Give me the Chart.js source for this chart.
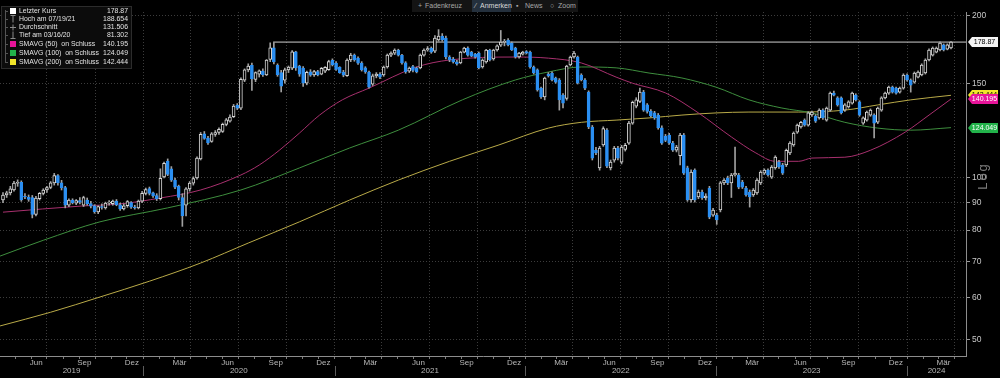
<!DOCTYPE html>
<html>
<head>
<meta charset="utf-8">
<script src="https://cdn.jsdelivr.net/npm/chart.js@4.4.1/dist/chart.umd.min.js"></script>
<style>
  html, body { margin: 0; padding: 0; background: #000; }
  #wrap { position: relative; width: 1000px; height: 378px; overflow: hidden; }
  #c { position: absolute; left: 0; top: 0; }
  #tb { position: absolute; left: 412px; top: 0; width: 166px; height: 12px; background: #141414;
        font: 7px "Liberation Sans", Arial, sans-serif; color: #a8a8a8; line-height: 12px; }
  #tb span { position: absolute; top: 0; white-space: nowrap; }
  #tb .on { background: #24303d; height: 12px; }
</style>
</head>
<body>
<div id="wrap">
  <canvas id="c" width="1000" height="378"></canvas>
  <div id="tb">
    <span style="left:6px">+</span><span style="left:13px">Fadenkreuz</span>
    <span class="on" style="left:60px;width:39px"></span>
    <span style="left:63px;color:#ccc">⁄</span><span style="left:68px;color:#d8d8d8">Anmerken</span>
    <span style="left:104px">▪</span><span style="left:113px">News</span>
    <span style="left:138px">○</span><span style="left:146px">Zoom</span>
  </div>
</div>
<script>
// weekly candles, first week = 2019-04-08
const open = [
  91.0, 93.0, 93.8, 95.0, 97.8, 98.2, 92.5, 92.2, 92.0, 85.6,
  91.5, 93.6, 95.0, 96.0, 97.9, 101.0, 98.0, 96.0, 89.0, 91.0,
  89.8, 90.8, 89.0, 91.0, 89.6, 88.8, 86.5, 88.5, 88.0, 89.8,
  89.6, 90.6, 89.2, 87.6, 88.8, 90.0, 88.3, 88.0, 90.6, 93.6,
  95.6, 93.8, 92.8, 91.5, 100.5, 107.5, 104.0, 99.1, 96.5, 92.0,
  89.0, 95.4, 97.8, 100.0, 108.5, 120.8, 118.6, 117.0, 120.5, 121.5,
  122.0, 125.8, 127.5, 130.0, 136.5, 134.8, 152.0, 158.8, 162.0, 152.5,
  156.0, 158.0, 155.5, 166.0, 174.5, 162.0, 157.0, 152.0, 158.8, 160.0,
  171.5, 161.2, 160.0, 150.0, 157.5, 155.5, 157.6, 156.0, 158.0, 159.0,
  165.5, 163.5, 160.5, 157.4, 155.0, 165.7, 169.2, 167.0, 163.5, 160.2,
  157.4, 149.4, 154.8, 156.0, 155.4, 160.8, 169.2, 170.6, 172.9, 169.0,
  163.6, 158.0, 161.0, 160.0, 160.2, 169.2, 172.9, 174.4, 172.0, 180.5,
  183.6, 182.0, 167.8, 166.4, 164.3, 163.6, 171.4, 174.4, 171.4, 169.9,
  170.6, 160.8, 164.3, 172.9, 166.4, 172.9, 176.5, 178.8, 180.5, 178.2,
  174.4, 167.8, 169.9, 171.8, 171.4, 160.8, 158.8, 146.9, 141.4, 156.0,
  156.7, 153.4, 152.1, 142.6, 140.5, 162.2, 167.8, 167.8, 155.4, 152.1,
  144.4, 124.4, 112.6, 104.4, 115.2, 122.7, 104.4, 107.9, 113.7, 107.0,
  113.0, 116.1, 126.5, 136.0, 138.8, 144.4, 136.7, 133.0, 132.1, 130.9,
  124.0, 119.7, 120.2, 116.1, 112.6, 110.0, 120.2, 104.4, 91.0, 103.4,
  92.2, 94.2, 91.8, 95.8, 85.3, 85.3, 87.2, 97.9, 100.0, 97.9,
  101.3, 101.3, 98.3, 95.8, 94.2, 93.0, 93.8, 97.9, 102.1, 103.4,
  100.4, 104.4, 107.0, 105.7, 105.7, 111.3, 115.2, 121.7, 124.4, 128.1,
  125.4, 131.0, 130.4, 129.3, 133.7, 128.1, 133.7, 143.8, 140.9, 140.9,
  133.7, 135.5, 137.8, 142.6, 138.5, 126.5, 128.1, 130.9, 130.9, 127.0,
  133.7, 140.9, 143.8, 147.5, 146.9, 144.4, 146.9, 155.4, 152.1, 150.7,
  154.0, 155.4, 156.7, 165.7, 169.2, 171.4, 172.9, 176.7, 173.6, 174.4
];
const high = [
  94.0, 94.5, 96.5, 98.6, 99.2, 98.8, 93.5, 93.0, 92.8, 92.5,
  94.0, 95.5, 96.5, 98.5, 102.0, 101.5, 99.0, 96.5, 91.5, 91.5,
  91.2, 92.0, 92.5, 91.8, 90.5, 89.2, 88.8, 89.5, 90.2, 90.8,
  91.0, 91.2, 89.8, 89.5, 90.8, 90.4, 89.0, 91.0, 94.5, 95.8,
  96.2, 94.2, 93.5, 104.0, 107.0, 108.5, 105.0, 100.0, 97.0, 93.5,
  96.0, 98.5, 100.5, 109.5, 121.5, 122.0, 119.5, 121.5, 122.5, 124.0,
  126.5, 129.0, 131.0, 137.0, 137.5, 153.5, 159.5, 163.0, 163.5, 157.5,
  158.8, 159.5, 166.0, 178.3, 178.5, 163.0, 158.5, 160.0, 161.5, 172.5,
  172.0, 162.0, 161.0, 158.0, 159.0, 158.5, 158.5, 160.5, 161.0, 165.5,
  166.5, 164.5, 161.0, 158.5, 166.5, 170.5, 170.0, 168.0, 164.5, 161.0,
  158.0, 156.0, 157.0, 157.0, 161.5, 170.0, 171.5, 173.8, 173.5, 169.8,
  164.5, 160.8, 162.0, 160.8, 170.0, 173.8, 175.5, 175.2, 184.0, 188.654,
  185.5, 183.5, 168.8, 167.5, 165.5, 172.0, 175.0, 175.2, 172.0, 170.5,
  171.5, 166.5, 173.5, 173.5, 173.5, 176.8, 188.0, 181.0, 181.5, 179.0,
  175.0, 171.2, 172.0, 172.5, 172.2, 161.5, 159.5, 147.5, 154.0, 157.0,
  157.5, 154.0, 153.0, 143.5, 162.0, 168.5, 172.0, 168.5, 156.2, 153.0,
  145.2, 125.2, 114.0, 114.5, 124.5, 123.5, 108.0, 114.5, 114.5, 115.0,
  116.0, 127.5, 139.0, 141.0, 146.9, 145.5, 137.5, 134.0, 133.0, 131.8,
  125.0, 120.5, 121.0, 117.0, 115.0, 121.0, 121.0, 105.2, 103.5, 104.0,
  95.0, 95.0, 93.5, 96.5, 87.8, 86.0, 98.5, 99.8, 100.8, 102.0,
  114.2, 102.0, 99.0, 96.5, 95.0, 95.6, 99.8, 103.2, 104.0, 104.0,
  105.5, 110.0, 107.8, 106.5, 113.2, 116.8, 121.8, 126.0, 127.5, 128.8,
  132.8, 133.2, 131.2, 134.5, 134.5, 135.5, 144.5, 145.0, 141.6, 141.5,
  137.5, 139.2, 144.5, 143.4, 139.2, 129.9, 133.2, 134.4, 131.6, 135.5,
  141.6, 144.5, 148.2, 148.2, 147.6, 147.6, 156.2, 156.2, 152.8, 157.4,
  158.2, 163.0, 166.5, 173.8, 175.2, 175.2, 179.0, 177.5, 177.5, 179.5
];
const low = [
  90.0, 92.0, 93.0, 94.5, 96.5, 90.5, 91.5, 90.5, 84.3, 85.0,
  91.0, 93.0, 94.0, 95.5, 97.0, 97.0, 95.0, 88.0, 88.5, 89.5,
  89.2, 89.5, 88.5, 89.0, 88.0, 86.0, 85.8, 87.5, 87.5, 89.0,
  89.0, 88.8, 87.0, 87.2, 88.2, 87.8, 87.5, 87.6, 90.0, 93.0,
  93.0, 92.0, 90.8, 91.0, 100.0, 101.0, 98.5, 95.5, 91.0, 81.302,
  85.0, 94.5, 97.0, 99.5, 108.0, 118.0, 115.5, 116.5, 119.5, 120.5,
  121.5, 125.0, 127.0, 129.5, 134.0, 134.0, 151.0, 157.5, 145.5, 151.0,
  154.0, 154.5, 155.0, 164.5, 163.0, 154.5, 144.5, 150.0, 157.0, 159.0,
  158.5, 154.5, 148.0, 149.0, 154.5, 154.5, 154.8, 155.5, 157.0, 158.5,
  161.5, 158.5, 156.5, 154.2, 154.5, 164.5, 164.8, 162.5, 158.0, 156.5,
  146.9, 148.5, 153.5, 153.0, 154.5, 160.0, 168.0, 169.5, 168.5, 162.8,
  156.5, 157.0, 157.5, 156.8, 159.5, 168.5, 172.0, 170.5, 171.0, 179.5,
  179.5, 166.5, 164.5, 163.5, 162.0, 163.0, 170.8, 168.5, 168.0, 167.0,
  159.5, 160.0, 163.5, 165.0, 165.5, 172.0, 175.5, 176.0, 176.0, 172.5,
  167.0, 167.0, 169.2, 170.0, 160.0, 156.0, 145.0, 140.5, 139.7, 154.0,
  151.5, 150.0, 133.7, 135.0, 139.5, 161.5, 167.0, 149.5, 151.5, 146.0,
  123.5, 108.0, 110.5, 103.4, 114.5, 104.5, 103.5, 107.0, 108.0, 106.2,
  112.2, 115.5, 125.8, 135.0, 138.0, 133.0, 132.0, 129.8, 128.5, 123.2,
  115.5, 116.8, 115.5, 112.0, 111.8, 105.7, 101.5, 90.5, 90.2, 90.2,
  91.5, 91.2, 91.0, 84.0, 84.8, 82.0, 86.5, 97.2, 97.2, 92.0,
  100.8, 95.5, 95.6, 92.5, 88.3, 92.4, 93.2, 97.2, 101.5, 100.8,
  99.8, 103.8, 104.2, 101.5, 105.0, 110.5, 114.5, 121.0, 123.8, 124.8,
  124.8, 130.2, 126.8, 128.6, 128.5, 127.5, 133.0, 142.0, 136.0, 131.5,
  133.0, 134.8, 137.2, 139.0, 130.2, 125.8, 127.5, 130.2, 118.7, 126.2,
  133.0, 140.2, 143.0, 143.8, 143.2, 143.8, 146.2, 151.4, 144.4, 150.0,
  153.4, 154.8, 156.0, 165.0, 168.5, 170.8, 172.2, 172.2, 173.0, 173.8
];
const close = [
  93.0, 93.8, 95.5, 97.8, 98.2, 91.0, 92.2, 91.2, 85.6, 91.8,
  93.6, 95.0, 96.0, 97.9, 101.0, 98.0, 95.8, 89.0, 91.0, 90.0,
  90.8, 90.2, 92.0, 89.6, 88.6, 86.6, 88.5, 88.2, 89.8, 90.2,
  90.6, 89.2, 87.6, 88.8, 90.4, 88.3, 88.0, 90.6, 93.6, 95.2,
  93.6, 92.6, 91.5, 99.9, 106.5, 101.5, 99.1, 96.2, 92.0, 85.0,
  95.5, 97.8, 99.8, 108.9, 120.5, 118.5, 116.2, 120.8, 121.5, 123.2,
  125.8, 128.2, 129.8, 136.0, 134.8, 152.5, 158.8, 161.5, 152.8, 157.0,
  158.2, 155.6, 165.6, 174.5, 164.3, 155.6, 148.2, 158.8, 160.8, 171.5,
  160.2, 156.0, 150.1, 157.2, 155.2, 157.6, 155.5, 159.8, 160.5, 164.5,
  162.2, 159.2, 157.0, 155.2, 165.7, 169.2, 165.7, 163.5, 158.8, 157.4,
  147.5, 154.8, 156.0, 154.0, 160.8, 169.2, 170.6, 172.9, 169.2, 163.6,
  157.4, 160.0, 158.5, 157.5, 169.2, 172.9, 174.0, 171.4, 182.0, 183.6,
  180.5, 167.8, 165.7, 164.3, 163.0, 171.4, 174.4, 169.2, 168.5, 167.8,
  160.2, 165.7, 172.9, 165.7, 172.9, 176.0, 178.8, 179.5, 176.7, 172.9,
  167.8, 170.6, 171.4, 170.6, 160.8, 156.7, 145.8, 141.4, 153.4, 154.8,
  152.1, 150.7, 139.7, 137.8, 161.5, 167.8, 170.6, 150.1, 152.1, 146.9,
  124.4, 108.9, 111.3, 113.7, 123.6, 105.2, 107.0, 113.7, 108.9, 114.2,
  115.0, 126.5, 138.3, 139.7, 144.4, 133.7, 133.0, 130.4, 129.3, 124.0,
  116.1, 117.5, 116.1, 112.6, 114.2, 120.2, 102.1, 91.0, 102.6, 91.0,
  94.2, 91.8, 92.6, 84.6, 87.2, 83.6, 97.9, 99.1, 97.9, 101.3,
  102.1, 96.2, 96.2, 93.0, 92.2, 95.0, 99.1, 102.6, 103.4, 101.3,
  104.8, 109.4, 104.8, 102.1, 112.6, 116.1, 121.2, 125.4, 126.9, 125.4,
  132.1, 132.6, 127.5, 133.7, 129.3, 134.9, 143.8, 142.6, 136.7, 132.1,
  136.7, 138.5, 143.8, 139.7, 130.9, 129.3, 132.6, 133.7, 126.5, 134.9,
  140.9, 143.8, 147.5, 144.4, 143.8, 146.9, 155.4, 152.1, 148.8, 156.7,
  157.4, 162.2, 165.7, 172.9, 174.4, 174.4, 178.2, 172.9, 176.7, 178.87
];

// moving averages (x = week index)
const sma50Weeks = [0, 21.5, 32, 43, 54, 65, 70, 75.5, 81, 86.5, 92.7, 100, 113, 122, 140, 149, 158, 167.5, 172, 181, 190, 199, 205.7, 211, 217.4, 221, 230, 237, 246.5, 253, 259];
const sma50 = [86.4, 88.7, 89.5, 91.8, 95.0, 101.3, 105.7, 112.6, 121.2, 130.9, 139.7, 146.9, 160.8, 165.7, 167.8, 167.0, 163.6, 154.0, 150.0, 143.9, 132.1, 119.2, 111.3, 107.4, 107.4, 108.9, 109.3, 112.6, 121.7, 130.9, 140.195];
const sma100Weeks = [-0.8, 11, 26.5, 45, 65, 81, 94.7, 108, 125.5, 140, 149, 158, 167.5, 176.5, 185.5, 194.8, 203.8, 212.8, 221, 230, 239, 248, 259];
const sma100 = [71.6, 76.6, 82.9, 88.0, 95.0, 104.4, 113.7, 122.7, 139.7, 152.1, 157.4, 160.8, 160.2, 156.7, 153.4, 147.5, 139.7, 134.9, 132.1, 126.9, 123.8, 122.7, 124.049];
const sma200Weeks = [-0.8, 13, 26.5, 40, 54, 67, 81, 94.7, 108, 122, 135.5, 149, 158, 167.5, 176.5, 185.5, 194.8, 203.8, 217.4, 230, 239, 248, 259];
const sma200 = [53.1, 56.3, 60.1, 64.3, 69.5, 75.7, 82.9, 91.0, 99.1, 107.4, 115.2, 123.8, 126.9, 128.1, 129.3, 130.9, 132.1, 132.6, 132.6, 133.7, 136.7, 139.7, 142.444];

const yTicks = [50, 60, 70, 80, 90, 100, 150, 200];
const monthNames = { 2: 'Mär', 5: 'Jun', 8: 'Sep', 11: 'Dez' };
const years = [2019, 2020, 2021, 2022, 2023, 2024];
const avgValue = 131.506;
const lastLineStart = 73.8;

const FONT = '"Liberation Sans", Arial, sans-serif';
const BLUE = '#2b8ff2';
const GRID = '#3c3c3c';
const X_MIN = -0.82, X_MAX = 263.1;
const Y_MIN = 46.69, Y_MAX = 203.45;

const START = Date.UTC(2019, 3, 8);
const weekOf = (y, m, d) => (Date.UTC(y, m, d) - START) / (7 * 86400000);

const monthTicks = [];
years.forEach(y => {
  for (let m = 0; m < 12; m++) {
    const v = weekOf(y, m, 1);
    if (v >= X_MIN && v <= X_MAX) monthTicks.push({ value: v, label: monthNames[m] || '', quarter: m % 3 === 0 });
  }
});
const yearTicks = years.map(y => {
  const a = Math.max(weekOf(y, 0, 1), X_MIN), b = Math.min(weekOf(y + 1, 0, 1), X_MAX);
  return { value: (a + b) / 2, label: String(y) };
});

const weeks = close.map((_, i) => i);
const isUp = i => i === undefined || close[i] >= open[i];
const last = close[close.length - 1];

const lineSet = (label, xs, ys, color) => ({
  type: 'line', label, xAxisID: 'x', yAxisID: 'y',
  data: xs.map((x, k) => ({ x, y: ys[k] })),
  borderColor: color, borderWidth: 1, pointRadius: 0,
  cubicInterpolationMode: 'monotone', order: 3
});

const legendRows = [
  { icon: 'box', color: '#ffffff', text: 'Letzter Kurs', value: last.toFixed(2) },
  { icon: 'hi', text: 'Hoch am 07/19/21', value: Math.max(...high).toFixed(3) },
  { icon: 'avg', text: 'Durchschnitt', value: avgValue.toFixed(3) },
  { icon: 'lo', text: 'Tief am 03/16/20', value: Math.min(...low).toFixed(3) },
  { icon: 'box', color: '#e8149a', text: 'SMAVG (50)  on Schluss', value: sma50[sma50.length - 1].toFixed(3) },
  { icon: 'box', color: '#22b24a', text: 'SMAVG (100)  on Schluss', value: sma100[sma100.length - 1].toFixed(3) },
  { icon: 'box', color: '#f2e52a', text: 'SMAVG (200)  on Schluss', value: sma200[sma200.length - 1].toFixed(3) }
];

const decor = {
  id: 'decor',
  afterDraw(chart) {
    const ctx = chart.ctx, xs = chart.scales.x, ys = chart.scales.y, area = chart.chartArea;
    ctx.save();

    // year separators under the month row
    ctx.strokeStyle = '#5c5c5c';
    ctx.lineWidth = 1;
    years.forEach(y => {
      const v = weekOf(y, 0, 1);
      if (v <= X_MIN || v >= X_MAX) return;
      const px = Math.round(xs.getPixelForValue(v)) + 0.5;
      ctx.beginPath(); ctx.moveTo(px, 366); ctx.lineTo(px, 376); ctx.stroke();
    });

    // Log label
    ctx.save();
    ctx.translate(983, 176);
    ctx.rotate(-Math.PI / 2);
    ctx.fillStyle = '#7e7e7e';
    ctx.font = '13px ' + FONT;
    ctx.letterSpacing = '2px';
    ctx.textAlign = 'center'; ctx.textBaseline = 'middle';
    ctx.fillText('Log', 0, 0);
    ctx.restore();

    // price tags on the right
    const tag = (v, bg, fg) => {
      const y = Math.round(ys.getPixelForValue(v));
      const x0 = area.right + 2;
      ctx.fillStyle = bg;
      ctx.beginPath();
      ctx.moveTo(x0, y); ctx.lineTo(x0 + 4, y - 5); ctx.lineTo(x0 + 30, y - 5);
      ctx.lineTo(x0 + 30, y + 5); ctx.lineTo(x0 + 4, y + 5); ctx.closePath(); ctx.fill();
      ctx.fillStyle = fg;
      ctx.font = '7px ' + FONT;
      ctx.textAlign = 'center'; ctx.textBaseline = 'middle';
      ctx.fillText(v.toFixed(v === last ? 2 : 3), x0 + 16.5, y + 0.5);
    };
    tag(sma200[sma200.length - 1], '#f2e52a', '#000');
    tag(sma50[sma50.length - 1], '#e8149a', '#fff');
    tag(sma100[sma100.length - 1], '#22b24a', '#fff');
    tag(last, '#f4f4f4', '#000');

    // legend box
    ctx.fillStyle = '#0c0c0c';
    ctx.fillRect(1, 6, 130, 62);
    ctx.strokeStyle = '#2c2c2c';
    ctx.strokeRect(1.5, 6.5, 130, 62);
    const rowY = [11, 19, 27, 35, 44, 53, 62];
    ctx.strokeStyle = '#555';
    ctx.beginPath(); ctx.moveTo(5.5, 10); ctx.lineTo(5.5, 63); ctx.stroke();
    ctx.font = '6.9px ' + FONT;
    ctx.textBaseline = 'middle';
    legendRows.forEach((r, k) => {
      const y = rowY[k];
      ctx.strokeStyle = '#555';
      ctx.beginPath(); ctx.moveTo(5, y + 0.5); ctx.lineTo(8, y + 0.5); ctx.stroke();
      if (r.icon === 'box') {
        ctx.fillStyle = r.color; ctx.fillRect(10, y - 3, 6, 6);
      } else {
        ctx.strokeStyle = '#8a8a8a';
        ctx.beginPath();
        if (r.icon === 'hi') { ctx.moveTo(10.5, y - 3.5); ctx.lineTo(15.5, y - 3.5); ctx.moveTo(13, y - 3.5); ctx.lineTo(13, y + 3.5); }
        if (r.icon === 'avg') { ctx.moveTo(10, y + 0.5); ctx.lineTo(16, y + 0.5); ctx.moveTo(13, y - 2.5); ctx.lineTo(13, y + 3.5); }
        if (r.icon === 'lo') { ctx.moveTo(13, y - 3.5); ctx.lineTo(13, y + 3.5); ctx.moveTo(10.5, y + 3.5); ctx.lineTo(15.5, y + 3.5); }
        ctx.stroke();
      }
      ctx.fillStyle = '#e2e2e2';
      ctx.textAlign = 'left';
      ctx.fillText(r.text, 19, y + 0.5);
      ctx.textAlign = 'right';
      ctx.fillText(r.value, 128, y + 0.5);
    });
    ctx.restore();
  }
};

new Chart(document.getElementById('c'), {
  type: 'bar',
  data: {
    datasets: [
      {
        type: 'bar', label: 'Docht', xAxisID: 'x', yAxisID: 'y',
        data: weeks.map(i => ({ x: i, y: [low[i], high[i]] })),
        backgroundColor: '#a0a0a0', borderWidth: 0,
        barThickness: 1, grouped: false, order: 2
      },
      {
        type: 'bar', label: 'Kurs', xAxisID: 'x', yAxisID: 'y',
        data: weeks.map(i => ({ x: i, y: [open[i], close[i]] })),
        backgroundColor: c => isUp(c.dataIndex) ? '#000000' : BLUE,
        borderColor: c => isUp(c.dataIndex) ? '#d8d8d8' : BLUE,
        borderWidth: 1, borderSkipped: false,
        barThickness: 3, grouped: false, order: 1
      },
      lineSet('SMAVG (50)', sma50Weeks, sma50, '#a8306e'),
      lineSet('SMAVG (100)', sma100Weeks, sma100, '#3e8e3e'),
      lineSet('SMAVG (200)', sma200Weeks, sma200, '#b9aa48'),
      {
        type: 'line', label: 'Letzter Kurs', xAxisID: 'x', yAxisID: 'y',
        data: [{ x: lastLineStart, y: last }, { x: X_MAX, y: last }],
        borderColor: '#cfcfcf', borderWidth: 1, pointRadius: 0, order: 4
      }
    ]
  },
  options: {
    responsive: false,
    animation: false,
    devicePixelRatio: 1,
    layout: { padding: { top: 12, left: 0, right: 0, bottom: 0 } },
    plugins: { legend: { display: false }, tooltip: { enabled: false } },
    scales: {
      x: {
        type: 'linear', position: 'bottom', min: X_MIN, max: X_MAX, offset: false,
        afterBuildTicks: s => { s.ticks = monthTicks.map(t => ({ value: t.value })); },
        afterFit: s => { s.height = 11; },
        ticks: {
          autoSkip: false, maxRotation: 0, minRotation: 0, padding: 0, labelOffset: 5,
          color: '#b8b8b8', font: { family: FONT, size: 8, lineHeight: 1 },
          callback: (v, i) => monthTicks[i] ? monthTicks[i].label : ''
        },
        grid: {
          offset: false, lineWidth: 1, drawTicks: true, tickLength: 3, tickColor: '#7c7c7c',
          color: c => (monthTicks[c.index] && monthTicks[c.index].quarter) ? GRID : 'rgba(0,0,0,0)'
        },
        border: { color: '#8c8c8c', width: 1, dash: [1, 2] }
      },
      x2: {
        type: 'linear', axis: 'x', position: 'bottom', min: X_MIN, max: X_MAX, offset: false,
        afterBuildTicks: s => { s.ticks = yearTicks.map(t => ({ value: t.value })); },
        afterFit: s => { s.height = 11; },
        ticks: {
          autoSkip: false, maxRotation: 0, minRotation: 0, padding: 0,
          color: '#b8b8b8', font: { family: FONT, size: 8, lineHeight: 1 },
          callback: (v, i) => yearTicks[i] ? yearTicks[i].label : ''
        },
        grid: { display: false, drawTicks: false },
        border: { display: false }
      },
      y: {
        type: 'logarithmic', position: 'right', min: Y_MIN, max: Y_MAX,
        afterBuildTicks: s => { s.ticks = yTicks.map(v => ({ value: v })); },
        afterFit: s => { s.width = 34; },
        ticks: {
          autoSkip: false, padding: 2, color: '#c8c8c8',
          font: { family: FONT, size: 8.5 },
          callback: v => String(v)
        },
        grid: { color: GRID, lineWidth: 1, drawTicks: true, tickLength: 4, tickColor: '#9a9a9a' },
        border: { color: '#8c8c8c', width: 1, dash: [1, 2] }
      }
    }
  },
  plugins: [decor]
});
</script>
</body>
</html>
